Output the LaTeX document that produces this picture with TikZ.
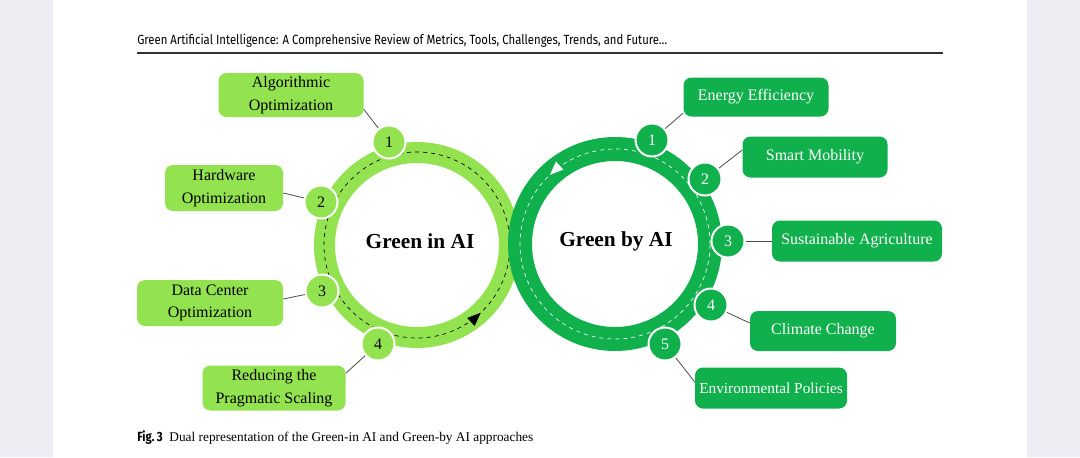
\documentclass[tikz,border=0pt]{standalone}
\usepackage{fontspec}
\setmainfont{Liberation Serif}
\newfontfamily\hdr{Fira Sans}[FakeStretch=0.85]
\usetikzlibrary{arrows.meta,decorations.markings}
\definecolor{lg}{HTML}{93E350}
\definecolor{dg}{HTML}{10B04C}
\definecolor{bgc}{HTML}{EEEDF3}
\begin{document}
\begin{tikzpicture}[x=0.75pt,y=-0.75pt,
  lbox/.style={rounded corners=6pt,fill=lg,text=black,align=center,font=\fontsize{12}{17}\selectfont,inner sep=0pt},
  rbox/.style={rounded corners=6pt,fill=dg,text=white,align=center,font=\fontsize{12}{17}\selectfont,inner sep=0pt},
  lnum/.style={circle,fill=lg,draw=white,line width=1.5pt,minimum size=33pt*0.75,inner sep=0pt,font=\fontsize{12}{12}\selectfont},
  rnum/.style={circle,fill=dg,draw=white,line width=1.5pt,minimum size=33pt*0.75,inner sep=0pt,text=white,font=\fontsize{12}{12}\selectfont},
  conn/.style={draw=black!70,line width=0.6pt}]
\fill[bgc] (0,0) rectangle (1080,457);
\fill[white] (53,0) rectangle (1027,457);
\node[anchor=base west,font=\hdr\fontsize{10}{12}\selectfont,inner sep=0] (hd) at (137,44) {Green Artificial Intelligence: A Comprehensive Review of Metrics, Tools, Challenges, Trends, and Future\dots};
\draw[line width=1.5pt,black!80] (137,53) -- (943,53);
% rings
\fill[lg,even odd rule] (417,245) circle[radius=103] (417,245) circle[radius=82];
\draw[black,dashed,line width=0.5pt,postaction={decorate},decoration={markings,mark=at position 0.87 with {\arrow{Triangle[length=10pt,width=8pt]}}}]
  (417,245) ++(0:93) arc[start angle=0,end angle=-360,radius=93];
\fill[dg,even odd rule] (615,244) circle[radius=107] (615,244) circle[radius=83];
\draw[white,dashed,line width=0.5pt,postaction={decorate},decoration={markings,mark=at position 0.37 with {\arrow{Triangle[length=10pt,width=8pt]}}}]
  (615,244) ++(0:95) arc[start angle=0,end angle=-360,radius=95];
\node[font=\bfseries\fontsize{16}{18}\selectfont] (gi) at (420,241) {Green in AI};
\node[font=\bfseries\fontsize{16}{18}\selectfont] (gb) at (616,241) {Green by AI};
% left boxes
\node[lbox,minimum width=145*0.75pt,minimum height=44*0.75pt] (l1) at (291,95) {Algorithmic\\Optimization};
\node[lbox,minimum width=118*0.75pt,minimum height=46*0.75pt] (l2) at (224,188) {Hardware\\Optimization};
\node[lbox,minimum width=146*0.75pt,minimum height=46*0.75pt] (l3) at (210,303) {Data Center\\Optimization};
\node[lbox,minimum width=143*0.75pt,minimum height=45*0.75pt] (l4) at (274,388) {Reducing the\\Pragmatic Scaling};
\node[lnum] (n1) at (389,142) {1};
\node[lnum] (n2) at (321,202) {2};
\node[lnum] (n3) at (322,291) {3};
\node[lnum] (n4) at (378,344) {4};
\draw[conn] (l1.south east) ++(0,-8) -- (n1);
\draw[conn] (l2.east) ++(0,5) -- (n2);
\draw[conn] (l3.east) ++(0,-4) -- (n3);
\draw[conn] (l4.north east) ++(0,8) -- (n4);
% right boxes
\node[rbox,minimum width=145*0.75pt,minimum height=39*0.75pt] (r1) at (756,97) {Energy Efficiency};
\node[rbox,minimum width=145*0.75pt,minimum height=41*0.75pt] (r2) at (815,157) {Smart Mobility};
\node[rbox,minimum width=170*0.75pt,minimum height=41*0.75pt] (r3) at (857,241) {Sustainable Agriculture};
\node[rbox,minimum width=146*0.75pt,minimum height=40*0.75pt] (r4) at (823,331) {Climate Change};
\node[rbox,minimum width=152*0.75pt,minimum height=41*0.75pt,font=\fontsize{11.5}{14}\selectfont] (r5) at (771,388) {Environmental Policies};
\node[rnum] (m1) at (652,140) {1};
\node[rnum] (m2) at (705,179) {2};
\node[rnum] (m3) at (728,241) {3};
\node[rnum] (m4) at (711,305) {4};
\node[rnum] (m5) at (665,344) {5};
\draw[conn] (r1.west) ++(0,16) -- (m1);
\draw[conn] (r2.west) ++(0,-7) -- (m2);
\draw[conn] (r3.west) -- (m3);
\draw[conn] (r4.west) ++(0,-8) -- (m4);
\draw[conn] (r5.west) ++(0,-6) -- (m5);
\node[anchor=base west,inner sep=0,font=\fontsize{10}{12}\selectfont] (cap) at (137,441) {{\hdr\bfseries Fig.\,3}\enspace Dual representation of the Green-in AI and Green-by AI approaches};
\end{tikzpicture}
\end{document}
